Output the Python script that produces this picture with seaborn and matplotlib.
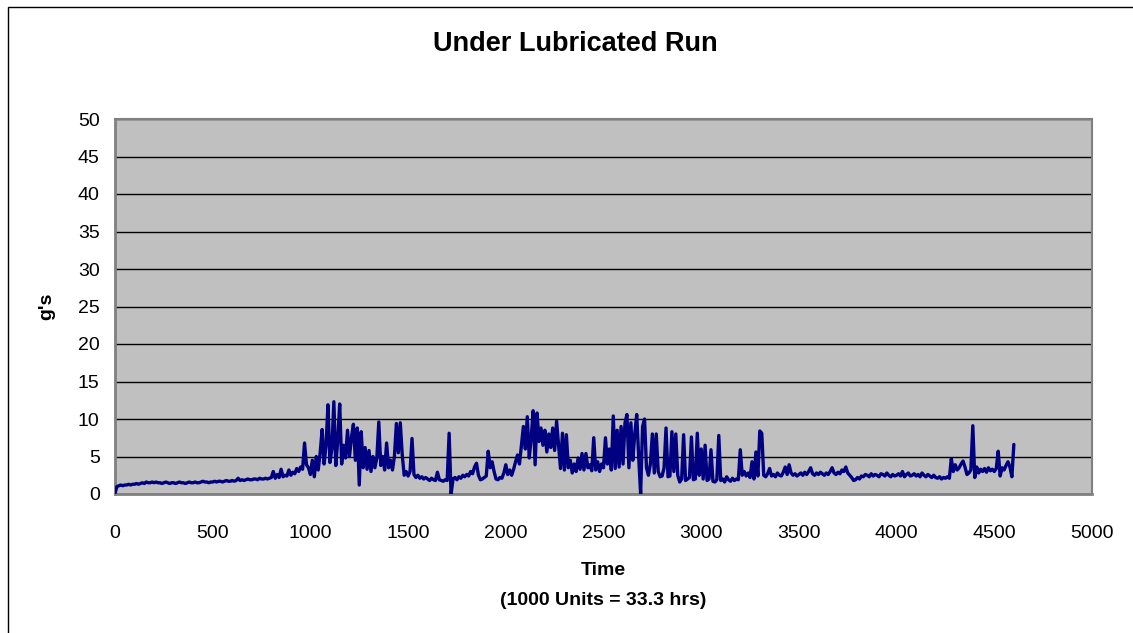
import numpy as np
import pandas as pd
import matplotlib
matplotlib.use("Agg")
import matplotlib.pyplot as plt
import seaborn as sns
from matplotlib.patches import Rectangle

# readings every 10 time units (g's)
g_0000 = [0.1, 1.0, 1.1, 1.2, 1.1, 1.2, 1.2, 1.3, 1.2, 1.3,
          1.3, 1.4, 1.3, 1.4, 1.5, 1.4, 1.6, 1.5, 1.5, 1.6,
          1.5, 1.6, 1.5, 1.5, 1.4, 1.5, 1.6, 1.5, 1.4, 1.5,
          1.5, 1.4, 1.5, 1.6, 1.5, 1.5, 1.4, 1.5, 1.6, 1.5,
          1.5, 1.6, 1.5, 1.5, 1.6, 1.7, 1.6, 1.6, 1.5, 1.6]
g_0500 = [1.6, 1.7, 1.6, 1.7, 1.7, 1.6, 1.7, 1.8, 1.7, 1.7,
          1.8, 1.7, 1.8, 2.1, 1.8, 1.9, 1.8, 1.9, 2.0, 1.9,
          1.9, 2.0, 2.0, 1.9, 2.1, 2.0, 2.0, 2.1, 2.0, 2.1,
          2.2, 3.0, 2.1, 2.6, 2.2, 3.3, 2.3, 2.5, 2.4, 3.2,
          2.5, 2.9, 2.7, 3.4, 3.0, 3.6, 3.3, 6.8, 3.9, 3.5]
g_1000 = [2.6, 4.5, 2.3, 5.0, 3.2, 5.5, 8.6, 4.0, 6.5, 11.9,
          4.2, 6.0, 12.3, 3.8, 7.2, 12.0, 4.0, 6.5, 4.8, 8.5,
          5.0, 7.5, 9.3, 4.5, 8.8, 1.2, 8.3, 3.5, 6.2, 3.3,
          5.8, 3.0, 5.0, 3.5, 4.8, 9.6, 3.8, 5.0, 3.2, 6.8,
          3.5, 4.5, 3.2, 5.0, 9.4, 5.5, 9.5, 5.2, 2.5, 3.0]
g_1500 = [2.4, 3.0, 7.4, 2.6, 2.2, 2.5, 2.1, 2.3, 2.0, 2.2,
          2.0, 1.8, 2.1, 1.9, 1.8, 2.9, 1.9, 1.8, 1.7, 1.9,
          1.8, 8.1, 0.0, 2.0, 2.2, 1.9, 2.3, 2.1, 2.5, 2.3,
          2.6, 2.4, 3.0, 2.7, 3.6, 4.1, 2.5, 1.9, 2.0, 2.2,
          2.4, 5.7, 3.5, 4.3, 3.0, 2.0, 1.9, 2.2, 2.1, 2.8]
g_2000 = [3.9, 2.6, 3.2, 2.5, 3.3, 4.3, 5.2, 4.0, 6.5, 9.0,
          6.0, 10.3, 4.8, 7.5, 11.1, 3.9, 10.8, 7.0, 8.8, 6.5,
          8.5, 5.6, 8.0, 6.2, 8.8, 5.8, 9.7, 6.5, 3.4, 8.1,
          3.2, 7.9, 3.5, 4.5, 2.8, 4.0, 3.0, 4.8, 3.3, 5.4,
          3.2, 5.4, 3.5, 3.9, 3.1, 7.5, 3.2, 4.3, 3.0, 4.0]
g_2500 = [3.5, 7.5, 4.0, 6.0, 3.2, 10.4, 3.4, 8.5, 3.6, 9.0,
          4.0, 9.5, 10.6, 3.5, 9.5, 4.5, 8.0, 10.6, 5.0, 0.0,
          9.0, 10.0, 3.5, 2.5, 4.0, 8.0, 2.8, 8.0, 3.0, 2.3,
          2.4, 3.5, 8.8, 2.3, 2.4, 8.3, 3.0, 8.0, 2.5, 1.6,
          2.0, 7.9, 1.8, 2.0, 2.2, 7.6, 1.9, 2.0, 8.1, 2.5]
g_3000 = [6.0, 2.0, 6.5, 1.8, 2.0, 5.9, 1.7, 1.6, 1.9, 7.8,
          1.8, 2.0, 1.6, 2.3, 1.9, 1.7, 2.1, 1.8, 2.0, 1.9,
          5.9, 2.5, 3.0, 2.4, 2.8, 2.2, 4.3, 2.0, 5.6, 2.4,
          8.4, 8.1, 2.5, 2.3, 2.7, 3.4, 2.4, 2.6, 2.3, 2.8,
          2.5, 2.4, 2.9, 3.6, 2.6, 3.9, 2.8, 2.5, 2.7, 2.4]
g_3500 = [2.6, 2.8, 2.5, 2.9, 2.6, 3.0, 3.5, 2.7, 2.5, 2.8,
          2.6, 2.9, 2.7, 2.5, 2.8, 2.6, 3.0, 3.5, 2.8, 2.6,
          2.9, 2.7, 3.2, 3.0, 3.6, 2.8, 2.5, 2.2, 1.8, 1.9,
          2.2, 2.0, 2.4, 2.3, 2.6, 2.5, 2.3, 2.7, 2.4, 2.6,
          2.5, 2.3, 2.7, 2.6, 2.4, 2.8, 2.5, 2.3, 2.6, 2.4]
g_4000 = [2.5, 2.7, 2.4, 3.0, 2.3, 2.6, 2.8, 2.4, 2.5, 2.7,
          2.4, 2.6, 2.3, 2.8, 2.5, 2.3, 2.6, 2.4, 2.2, 2.5,
          2.2, 2.1, 2.3, 2.0, 2.2, 2.1, 2.3, 2.1, 4.7, 3.0,
          3.9, 3.2, 3.5, 4.0, 4.4, 3.6, 2.6, 2.8, 3.2, 9.1,
          2.2, 3.6, 2.8, 3.3, 3.0, 3.4, 2.9, 3.5, 3.1, 3.3]
g_4500 = [3.0, 3.4, 5.7, 2.4, 3.5, 3.2, 3.8, 4.3, 3.6, 2.3,
          6.6]

x_ticks = [0, 500, 1000, 1500, 2000, 2500, 3000, 3500, 4000, 4500, 5000]
y_ticks = [0, 5, 10, 15, 20, 25, 30, 35, 40, 45, 50]

g_values = (g_0000 + g_0500 + g_1000 + g_1500 + g_2000 + g_2500
            + g_3000 + g_3500 + g_4000 + g_4500)
df = pd.DataFrame({"time": np.arange(len(g_values)) * 10, "g": g_values})

sns.set_style("white")
plt.rcParams["font.family"] = ["Liberation Sans", "DejaVu Sans"]
plt.rcParams["text.color"] = "black"
plt.rcParams["axes.labelcolor"] = "black"
plt.rcParams["xtick.color"] = "black"
plt.rcParams["ytick.color"] = "black"

fig = plt.figure(figsize=(11.33, 6.33), dpi=100)
fig.patch.set_facecolor("white")
# chart-area border (only the left and top edges show in the original)
fig.patches.append(Rectangle((8 / 1133, -0.1), 1.2, 1.1 - 7 / 633,
                             transform=fig.transFigure, fill=False,
                             edgecolor="black", linewidth=1))

ax = fig.add_axes([115 / 1133, 1 - 494 / 633, 977 / 1133, 375 / 633])
ax.set_facecolor("#C0C0C0")

sns.lineplot(data=df, x="time", y="g", ax=ax, color="#000080",
             linewidth=2.4, estimator=None, zorder=3)

ax.set_xlim(0, 5000)
ax.set_ylim(0, 50)
ax.set_xticks(x_ticks)
ax.set_yticks(y_ticks)
ax.yaxis.grid(True, color="black", linewidth=1)
ax.set_axisbelow(True)

for side in ["top", "right"]:
    ax.spines[side].set_color("#808080")
    ax.spines[side].set_linewidth(1.5)
for side in ["left", "bottom"]:
    ax.spines[side].set_color("#808080")
    ax.spines[side].set_linewidth(2)

ax.tick_params(axis="x", direction="out", length=5, width=1, color="black",
               pad=17, labelsize=14)
ax.tick_params(axis="y", direction="out", length=5, width=1, color="black",
               pad=6, labelsize=14)

ax.set_xlabel("Time\n(1000 Units = 33.3 hrs)", fontsize=14, fontweight="bold",
              linespacing=1.95, labelpad=15)
ax.set_ylabel("g's", fontsize=14, fontweight="bold", labelpad=16)
fig.text(575 / 1133, 1 - 44 / 633, "Under Lubricated Run", ha="center",
         va="center", fontsize=19.5, fontweight="bold")

fig.savefig("out.png", dpi=100)
